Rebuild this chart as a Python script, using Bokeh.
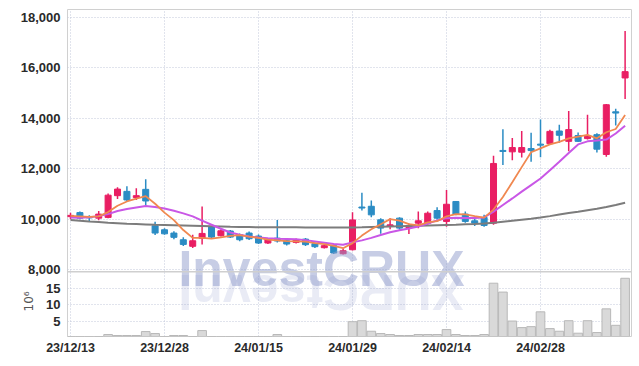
import math
from bokeh.plotting import figure
from bokeh.models import (Range1d, FixedTicker, ColumnDataSource, Span, Title,
                          CustomJSTickFormatter)
from bokeh.core.properties import value
from bokeh.embed import file_html
from bokeh.resources import INLINE

# ---- data ----
tick_pos = [0, 10, 20, 30, 40, 50]
tick_labels = ["23/12/13", "23/12/28", "24/01/15", "24/01/29", "24/02/14", "24/02/28"]

opens = [10100, 10260, 10080, 10040, 10070, 10930, 11100, 10855, 11180, 9740,
         9580, 9450, 9185, 8925, 9240, 9685, 9345, 9530, 9380, 9450,
         9330, 9055, 9250, 9145, 9080, 9210, 9030, 8870, 8950, 8630,
         8790, 10480, 10510, 9975, 9710, 10040, 9670, 9840, 9840, 10340,
         9910, 10700, 10200, 9935, 10065, 9840, 12720, 12665, 12650, 12795,
         12970, 12990, 13490, 13080, 13310, 13190, 13345, 12560, 14250, 15590]
highs = [10250, 10300, 10150, 10320, 11020, 11260, 11300, 11220, 11575, 9895,
         9640, 9520, 9280, 9380, 10500, 9720, 9600, 9570, 9430, 9510,
         9390, 9250, 9970, 9195, 9230, 9250, 9075, 8995, 8995, 8820,
         10275, 11050, 10735, 10040, 10040, 10080, 9830, 10300, 10300, 10470,
         11150, 10720, 10300, 10010, 10170, 12510, 13555, 13215, 13490, 13425,
         13950, 13540, 13740, 14280, 13430, 14130, 13400, 14560, 14370, 17450]
lows = [10000, 10000, 9900, 9960, 10040, 10800, 10700, 10760, 10540, 9370,
        9380, 9200, 8935, 8860, 9000, 9250, 9310, 9250, 9130, 9170,
        9015, 9015, 9075, 8955, 9035, 8935, 8860, 8840, 8620, 8600,
        8760, 10340, 10080, 9420, 9600, 9580, 9410, 9640, 9780, 9990,
        9700, 10150, 9860, 9725, 9700, 9780, 12140, 12335, 12440, 12270,
        12450, 12950, 13020, 12690, 13050, 13150, 12640, 12470, 13710, 14760]
closes = [10150, 10040, 10050, 10200, 10950, 11190, 10760, 10930, 10720, 9450,
          9420, 9280, 9000, 9145, 9435, 9290, 9540, 9290, 9185, 9225,
          9055, 9210, 9135, 9015, 9185, 8990, 8910, 8950, 8660, 8750,
          9970, 10440, 10170, 9645, 9775, 9645, 9750, 9935, 10235, 10040,
          10590, 10200, 9910, 9840, 9750, 12205, 12680, 12835, 12835, 12715,
          12930, 13475, 13320, 13545, 13080, 13280, 12770, 14530, 14200, 15840]
ma5 = [10130, 10110, 10090, 10110, 10280, 10530, 10700, 10810, 10910, 10610,
       10260, 9960, 9570, 9260, 9260, 9230, 9280, 9340, 9370, 9310,
       9260, 9190, 9160, 9130, 9120, 9110, 9050, 9010, 8940, 8850,
       9050, 9350, 9600, 9800, 10000, 9940, 9800, 9750, 9870, 9920,
       10110, 10200, 10190, 10120, 10060, 10380, 10880, 11460, 12060, 12650,
       12800, 12960, 13060, 13200, 13270, 13340, 13200, 13440, 13570, 14120]
ma20 = [10070, 10060, 10080, 10120, 10200, 10320, 10400, 10460, 10520, 10480,
        10420, 10330, 10230, 10110, 9940, 9780, 9620, 9470, 9380, 9310,
        9270, 9240, 9220, 9210, 9200, 9170, 9120, 9070, 9020, 8990,
        9080, 9160, 9260, 9370, 9480, 9560, 9630, 9710, 9830, 9950,
        10040, 10060, 10050, 10050, 10070, 10300, 10560, 10820, 11090, 11350,
        11610, 11940, 12270, 12620, 12960, 13080, 13110, 13150, 13390, 13700]
ma120 = [9970, 9940, 9910, 9885, 9860, 9840, 9820, 9805, 9790, 9775,
         9765, 9755, 9745, 9735, 9725, 9715, 9705, 9695, 9690, 9685,
         9680, 9680, 9680, 9678, 9676, 9674, 9672, 9670, 9670, 9670,
         9672, 9680, 9690, 9700, 9710, 9720, 9730, 9740, 9750, 9760,
         9770, 9780, 9795, 9810, 9830, 9860, 9900, 9940, 9980, 10020,
         10065, 10120, 10180, 10240, 10290, 10350, 10410, 10480, 10560, 10650]
volume = [0.2, 0.2, 0.2, 0.3, 0.9, 0.6, 0.6, 0.6, 1.8, 1.2,
          0.3, 0.6, 0.6, 0.3, 2.1, 0.3, 0.2, 0.2, 0.2, 0.2,
          0.2, 0.2, 0.9, 0.2, 0.2, 0.2, 0.2, 0.2, 0.3, 0.3,
          4.8, 5.1, 1.9, 1.2, 0.9, 0.6, 0.6, 0.9, 0.9, 0.9,
          2.4, 0.9, 0.6, 0.6, 0.9, 16.5, 13.8, 5.0, 3.0, 3.3,
          7.8, 2.7, 1.9, 5.1, 1.3, 5.1, 1.5, 8.7, 3.7, 18.0]
price_ticks = [8000, 10000, 12000, 14000, 16000, 18000]
vol_ticks = [5, 10, 15]
watermark = "InvestCRUX"

# ---- layout geometry / styles ----
UP = "#e91e63"
DOWN = "#2b8cc4"
GRID = "#c3c8da"
LABEL_FONT = "Liberation Sans"
FRAME_H = 328          # px, whole frame (price panel + volume panel)
PRICE_H = 263          # px, upper (price) panel
PRICE_TOP, PRICE_SEP = 18300, 7920
VOL_LO, VOL_HI = 0.3, 20

price_bottom = PRICE_TOP - (PRICE_TOP - PRICE_SEP) * FRAME_H / PRICE_H
vol_top = VOL_LO + (VOL_HI - VOL_LO) * FRAME_H / (FRAME_H - PRICE_H)
px_per_price = PRICE_H / (PRICE_TOP - PRICE_SEP)


def vol_to_price(v):
    return price_bottom + (v - VOL_LO) / (vol_top - VOL_LO) * (PRICE_TOP - price_bottom)


idx = list(range(len(closes)))
colors = [UP if c >= o else DOWN for o, c in zip(opens, closes)]
src = ColumnDataSource(dict(
    x=idx, high=highs, low=lows,
    top=[max(o, c) for o, c in zip(opens, closes)],
    bottom=[min(o, c) for o, c in zip(opens, closes)],
    color=colors, vol=volume,
    ma5=ma5, ma20=ma20, ma120=ma120,
))

p = figure(width=634, height=357, x_range=Range1d(-0.32, 59.68),
           y_range=Range1d(price_bottom, PRICE_TOP),
           output_backend="svg", toolbar_location=None,
           min_border_left=67, min_border_right=3, min_border_top=9, min_border_bottom=20)
p.extra_y_ranges = {"vol": Range1d(VOL_LO, vol_top)}
p.outline_line_color = "#d0d0d0"

# y axis: price ticks in the upper panel, volume ticks in the lower panel
vol_tick_prices = [vol_to_price(v) for v in vol_ticks]
ya = p.yaxis[0]
ya.ticker = FixedTicker(ticks=price_ticks + vol_tick_prices)
ya.formatter = CustomJSTickFormatter(
    args=dict(vt=vol_ticks, vp=vol_tick_prices),
    code="""
    for (let i = 0; i < vp.length; i++) {
        if (Math.abs(tick - vp[i]) < 1) return String(vt[i]);
    }
    return Math.round(tick).toLocaleString('en-US');
    """)
xa = p.xaxis[0]
xa.ticker = FixedTicker(ticks=tick_pos)
xa.major_label_overrides = {t: l for t, l in zip(tick_pos, tick_labels)}
for ax in (ya, xa):
    ax.axis_line_color = None
    ax.major_tick_line_color = None
    ax.minor_tick_line_color = None
    ax.major_tick_out = 0
    ax.major_tick_in = 0
    ax.minor_tick_out = 0
    ax.minor_tick_in = 0
    ax.major_label_text_font = LABEL_FONT
    ax.major_label_text_font_style = "bold"
    ax.major_label_text_color = "#2a2a2a"
ya.major_label_text_font_size = "13px"
ya.major_label_standoff = 7
xa.major_label_text_font_size = "12.5px"
xa.major_label_standoff = 4

p.xgrid.ticker = FixedTicker(ticks=tick_pos)
p.ygrid.ticker = FixedTicker(ticks=price_ticks + vol_tick_prices)
for g in (p.xgrid, p.ygrid):
    g.grid_line_color = GRID
    g.grid_line_dash = "1 2"
    g.grid_line_width = 1

# volume panel
p.vbar(x="x", top="vol", bottom=0, width=0.92, source=src, y_range_name="vol",
       fill_color="#d9d9d9", line_color="#b8b8b8", line_width=1)

# candles
p.segment(x0="x", y0="low", x1="x", y1="high", source=src, line_color="color", line_width=1.5)
p.vbar(x="x", top="top", bottom="bottom", width=0.64, source=src,
       fill_color="color", line_color="color", line_width=1)
p.line("x", "ma120", source=src, line_color="#7c7c7c", line_width=2)
p.line("x", "ma20", source=src, line_color="#c957e6", line_width=2)
p.line("x", "ma5", source=src, line_color="#f08850", line_width=1.8)

# panel separator
p.add_layout(Span(location=PRICE_SEP, dimension="width", line_color="#cfcfcf", line_width=1.5))

# watermark (centered) and its mirrored reflection around the panel separator
WM_X = 26.7                       # centre of the watermark, in bar-index units
WM_BASE = 8019                    # baseline of the upright watermark (price units)
WM_HALF = 18 / px_per_price       # half cap height in price units
p.text(x=[WM_X], y=[WM_BASE], text=[watermark], text_font=value("Liberation Sans"),
       text_font_style="bold", text_font_size="50px", text_color="#8f9bcc",
       text_alpha=0.5, text_align="center", text_baseline="alphabetic")
mirror_mid = 2 * PRICE_SEP - (WM_BASE + WM_HALF)
p.text(x=[WM_X], y=[mirror_mid], text=[watermark[::-1]], text_font=value("Liberation Sans"),
       text_font_style="bold", text_font_size="50px", text_color="#8f9bcc",
       text_alpha=0.2, text_align="center", text_baseline="middle", angle=math.pi)

# volume unit label, in the left side panel next to the volume ticks
p.add_layout(Title(text="10⁶", align="left", offset=25, standoff=-36,
                   vertical_align="bottom", text_font="DejaVu Sans",
                   text_font_size="12px", text_font_style="normal",
                   text_color="#555555"), "left")

open("out.html", "w").write(file_html(p, INLINE))
